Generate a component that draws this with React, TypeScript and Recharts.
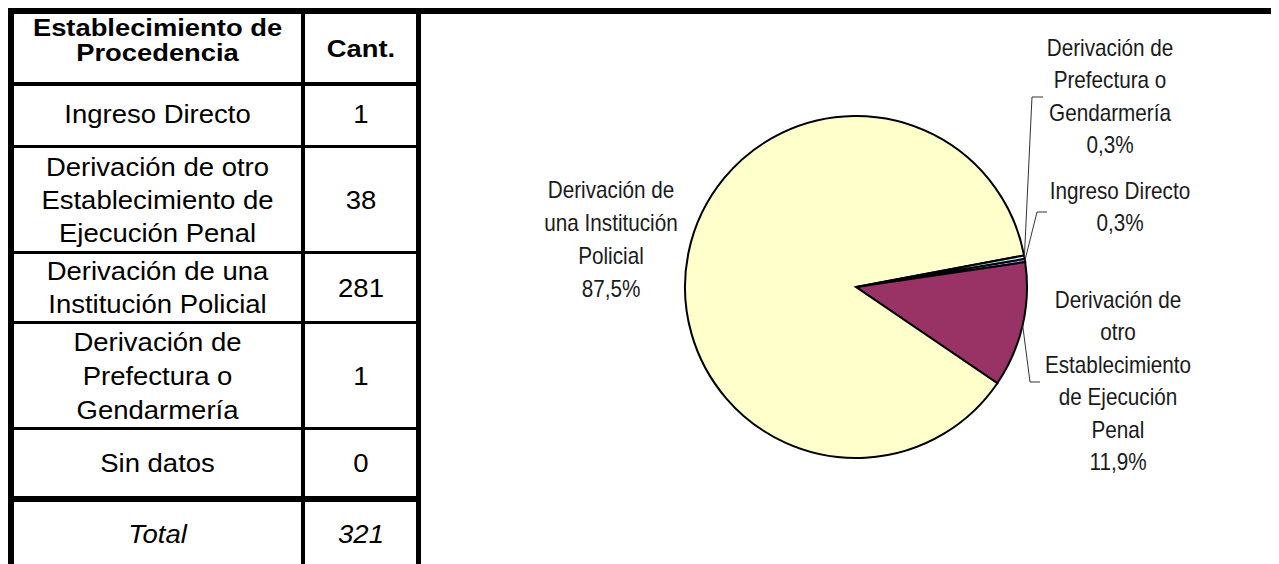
import React from "react";
import { PieChart, Pie, Cell } from "recharts";

// ---- data ----
const categories = [
  "Ingreso Directo",
  "Derivación de otro Establecimiento de Ejecución Penal",
  "Derivación de una Institución Policial",
  "Derivación de Prefectura o Gendarmería",
  "Sin datos",
];
const counts = [1, 38, 281, 1, 0];
const totalLabel = "Total";
const headerLines = ["Establecimiento de", "Procedencia"];
const countHeader = "Cant.";
const tableRowLines = [
  ["Ingreso Directo"],
  ["Derivación de otro", "Establecimiento de", "Ejecución Penal"],
  ["Derivación de una", "Institución Policial"],
  ["Derivación de", "Prefectura o", "Gendarmería"],
  ["Sin datos"],
];
const pieLabelLines = [
  ["Ingreso Directo"],
  ["Derivación de", "otro", "Establecimiento", "de Ejecución", "Penal"],
  ["Derivación de", "una Institución", "Policial"],
  ["Derivación de", "Prefectura o", "Gendarmería"],
  [],
];
const pctLabels = ["0,3%", "11,9%", "87,5%", "0,3%", "0,0%"];

// ---- styles / layout ----
const sliceColors = ["#9999FF", "#993366", "#FFFFCC", "#CCFFFF", "#660066"];
const W = 1271;
const H = 556;
const FONT = "'Liberation Sans', Arial, sans-serif";

const labelLayout: Record<number, { x: number; y0: number; dy: number; leader: number[][] | null }> = {
  0: { x: 1112, y0: 191, dy: 32, leader: [[1029, 204], [1039, 204]] },
  1: { x: 1110, y0: 300, dy: 32.4, leader: [[1022, 374], [1032, 374]] },
  2: { x: 603, y0: 190, dy: 33, leader: null },
  3: { x: 1102, y0: 48, dy: 32.3, leader: [[1024, 89], [1035, 89]] },
};

// table geometry (wrapper coords)
const rowBaselines = [[115], [168, 201, 234], [272, 305], [342.5, 376.5, 410.5], [464]];
const countBaselines = [115, 201, 288.5, 376.5, 464];
const hLines = [
  { y: 74, h: 4 },
  { y: 137, h: 3 },
  { y: 243, h: 3 },
  { y: 313, h: 3 },
  { y: 419, h: 3 },
  { y: 488, h: 6 },
];
const COL1X = 149.5;
const COL2X = 353;
const RIGHT_X = 408;

const pieData = categories
  .map((name, i) => ({ name, value: counts[i], idx: i }))
  .filter((d) => d.value > 0);

const total = counts.reduce((a, b) => a + b, 0);

function T({ x, y, children, sx = 1.1, size = 25, weight = 400, italic = false, fill = "#000" }: any) {
  return (
    <text
      transform={`translate(${x} ${y}) scale(${sx} 1)`}
      textAnchor="middle"
      fontFamily={FONT}
      fontSize={size}
      fontWeight={weight}
      fontStyle={italic ? "italic" : "normal"}
      fill={fill}
    >
      {children}
    </text>
  );
}

const RAD = Math.PI / 180;

function renderLabel(props: any) {
  const idx = props.payload && props.payload.idx !== undefined ? props.payload.idx : props.index;
  const lay = labelLayout[idx];
  if (!lay) return null;
  const lines = [...pieLabelLines[idx], pctLabels[idx]];
  const { cx, cy, outerRadius, midAngle } = props;
  const sx = cx + outerRadius * Math.cos(-midAngle * RAD);
  const sy = cy + outerRadius * Math.sin(-midAngle * RAD);
  return (
    <g>
      {lay.leader && (
        <polyline
          points={[[sx, sy], ...lay.leader].map((p) => p.join(",")).join(" ")}
          fill="none"
          stroke="#333"
          strokeWidth={1}
        />
      )}
      {lines.map((ln, i) => (
        <T key={i} x={lay.x} y={lay.y0 + i * lay.dy} sx={0.9} size={23} fill="#1a1a1a">
          {ln}
        </T>
      ))}
    </g>
  );
}

export default function App() {
  return (
    <div style={{ position: "relative", width: W, height: H }}>
      <PieChart width={W} height={H} margin={{ top: 0, right: 0, bottom: 0, left: 0 }}>
        <Pie
          data={pieData}
          dataKey="value"
          nameKey="name"
          cx={848}
          cy={279}
          outerRadius={171}
          startAngle={9.5}
          endAngle={-350.5}
          stroke="#000"
          strokeWidth={2}
          label={renderLabel}
          labelLine={false}
          isAnimationActive={false}
        >
          {pieData.map((d) => (
            <Cell key={d.idx} fill={sliceColors[d.idx]} />
          ))}
        </Pie>
      </PieChart>
      <svg
        width={W}
        height={H}
        style={{ position: "absolute", left: 0, top: 0, pointerEvents: "none" }}
      >
        {/* borders */}
        <rect x={0} y={0} width={W} height={6} fill="#000" />
        <rect x={0} y={0} width={6} height={H} fill="#000" />
        <rect x={293} y={6} width={4} height={H} fill="#000" />
        <rect x={RIGHT_X} y={6} width={5} height={H} fill="#000" />
        {hLines.map((l, i) => (
          <rect key={i} x={0} y={l.y} width={RIGHT_X + 5} height={l.h} fill="#000" />
        ))}
        {/* header */}
        <T x={COL1X} y={28} weight={700} size={24} sx={1.14}>{headerLines[0]}</T>
        <T x={COL1X} y={53} weight={700} size={24} sx={1.14}>{headerLines[1]}</T>
        <T x={COL2X} y={49} weight={700} size={24} sx={1.14}>{countHeader}</T>
        {/* rows */}
        {tableRowLines.map((lines, r) =>
          lines.map((ln, j) => (
            <T key={`${r}-${j}`} x={COL1X} y={rowBaselines[r][j]}>
              {ln}
            </T>
          ))
        )}
        {counts.map((c, r) => (
          <T key={`c${r}`} x={COL2X} y={countBaselines[r]}>
            {String(c)}
          </T>
        ))}
        <T x={COL1X} y={535} italic>{totalLabel}</T>
        <T x={COL2X} y={535} italic>{String(total)}</T>
      </svg>
    </div>
  );
}
